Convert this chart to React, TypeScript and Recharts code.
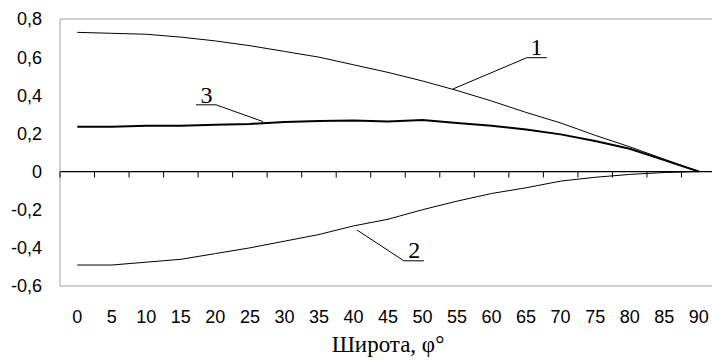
import React from 'react';
import { LineChart, Line, XAxis, YAxis, ReferenceLine, ReferenceDot } from 'recharts';

// Latitude categories (degrees)
const latitude = [0, 5, 10, 15, 20, 25, 30, 35, 40, 45, 50, 55, 60, 65, 70, 75, 80, 85, 90];

// Curve 1 (thin, upper)
const series1 = [0.73, 0.725, 0.72, 0.705, 0.685, 0.66, 0.63, 0.6, 0.56, 0.52, 0.475, 0.425, 0.37, 0.31, 0.255, 0.19, 0.13, 0.065, 0];
// Curve 2 (negative)
const series2 = [-0.49, -0.49, -0.475, -0.46, -0.43, -0.4, -0.365, -0.33, -0.285, -0.25, -0.2, -0.155, -0.115, -0.085, -0.05, -0.03, -0.015, -0.005, 0];
// Curve 3 (bold)
const series3 = [0.235, 0.235, 0.24, 0.24, 0.245, 0.25, 0.26, 0.265, 0.268, 0.262, 0.27, 0.255, 0.24, 0.22, 0.195, 0.16, 0.12, 0.06, 0];

const yTicks = [-0.6, -0.4, -0.2, 0, 0.2, 0.4, 0.6, 0.8];
// category boundaries where the small ticks sit on the zero line
const tickBounds = [-2.5, 2.5, 7.5, 12.5, 17.5, 22.5, 27.5, 32.5, 37.5, 42.5, 47.5, 52.5, 57.5, 62.5, 67.5, 72.5, 77.5, 82.5, 87.5];

// callouts: label, text anchor, underline ends, leader end (data units)
const callouts = [
  { label: '1', text: [66.5, 0.612], under: [65.1, 68.0, 0.597], leader: [54.4, 0.433] },
  { label: '3', text: [18.7, 0.362], under: [17.2, 20.1, 0.35], leader: [26.9, 0.262] },
  { label: '2', text: [48.8, -0.452], under: [47.3, 50.2, -0.468], leader: [40.5, -0.306] },
];

const data = latitude.map((lat, i) => ({ lat, s1: series1[i], s2: series2[i], s3: series3[i] }));

const fmtY = (v: number) => String(v).replace('.', ',');

const SmallTick = (props: any) => (
  <line x1={props.cx} y1={props.cy} x2={props.cx} y2={props.cy + 6} stroke="#000" strokeWidth={1} />
);

const CalloutText = (label: string) => (props: any) => (
  <text x={props.cx} y={props.cy} textAnchor="middle" fontFamily="'Liberation Serif', 'Times New Roman', serif" fontSize={24} fill="#000">
    {label}
  </text>
);

const App = () => {
  return (
    <div style={{ width: 712, height: 360, overflow: 'hidden', background: '#fff' }}>
      <style>{`body{margin:0}`}</style>
      <LineChart width={716} height={360} data={data} margin={{ top: 19, right: 0, bottom: 0, left: 0 }}>
        <XAxis
          dataKey="lat"
          type="number"
          domain={[-2.5, 92.5]}
          ticks={latitude}
          interval={0}
          allowDataOverflow
          height={74}
          stroke="#a0a0a0"
          tickLine={false}
          tickSize={0}
          tickMargin={24}
          tick={{ fill: '#000', fontSize: 18, fontFamily: "'Liberation Sans', Arial, sans-serif" }}
          label={{
            value: 'Широта, φ°',
            position: 'insideBottom',
            offset: 8,
            fill: '#000',
            fontSize: 23,
            fontFamily: "'Liberation Serif', 'Times New Roman', serif",
          }}
        />
        <YAxis
          type="number"
          domain={[-0.6, 0.8]}
          ticks={yTicks}
          interval={0}
          width={60}
          stroke="#a0a0a0"
          tickLine={false}
          tickSize={0}
          tickMargin={18}
          tickFormatter={fmtY}
          tick={{ fill: '#000', fontSize: 18, fontFamily: "'Liberation Sans', Arial, sans-serif" }}
        />
        <ReferenceLine y={0.8} stroke="#a0a0a0" strokeWidth={1} />
        <ReferenceLine y={0} stroke="#000" strokeWidth={1.2} />
        {tickBounds.map((b) => (
          <ReferenceDot key={'t' + b} x={b} y={0} r={0} shape={SmallTick} />
        ))}
        <Line type="linear" dataKey="s1" stroke="#000" strokeWidth={1} dot={false} isAnimationActive={false} />
        <Line type="linear" dataKey="s2" stroke="#000" strokeWidth={1} dot={false} isAnimationActive={false} />
        <Line type="linear" dataKey="s3" stroke="#000" strokeWidth={2} dot={false} isAnimationActive={false} />
        {callouts.map((c) => (
          <ReferenceLine
            key={'u' + c.label}
            segment={[{ x: c.under[0], y: c.under[2] }, { x: c.under[1], y: c.under[2] }]}
            stroke="#000"
            strokeWidth={1}
          />
        ))}
        {callouts.map((c) => {
          const start = c.label === '3' ? c.under[1] : c.under[0];
          return (
            <ReferenceLine
              key={'l' + c.label}
              segment={[{ x: start, y: c.under[2] }, { x: c.leader[0], y: c.leader[1] }]}
              stroke="#000"
              strokeWidth={1}
            />
          );
        })}
        {callouts.map((c) => (
          <ReferenceDot key={'c' + c.label} x={c.text[0]} y={c.text[1]} r={0} shape={CalloutText(c.label)} />
        ))}
      </LineChart>
    </div>
  );
};

export default App;
